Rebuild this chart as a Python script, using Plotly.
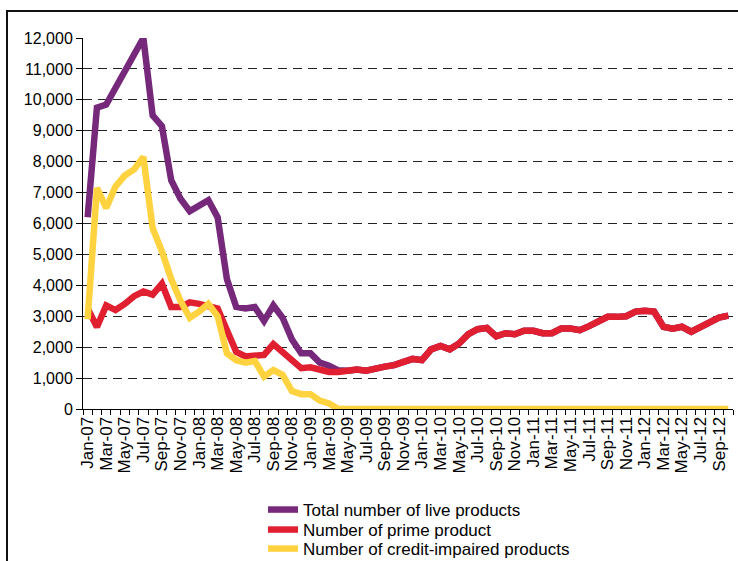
import pandas as pd
import plotly.graph_objects as go

months = list(pd.date_range("2007-01-01", periods=70, freq="MS").strftime("%b-%y"))

total_live = [
    6200, 9750, 9850, 10400, 10900, 11400, 12000, 9500, 9150, 7400, 6800, 6400,
    6550, 6750, 6200, 4200, 3300, 3250, 3300, 2850, 3350, 2950, 2250, 1800,
    1800, 1500, 1400, 1250, 1240, 1280, 1240, 1320, 1370, 1420, 1530, 1620,
    1580, 1930, 2040, 1930, 2120, 2420, 2580, 2620, 2350, 2450, 2420, 2530,
    2530, 2450, 2450, 2600, 2600, 2550, 2680, 2820, 2980, 2980, 3000, 3150,
    3180, 3150, 2660, 2600, 2660, 2500, 2660, 2770, 2960, 3020,
]
prime = [
    3250, 2650, 3350, 3200, 3400, 3650, 3800, 3700, 4050, 3300, 3300, 3450,
    3400, 3350, 3250, 2550, 1850, 1700, 1720, 1750, 2100, 1820, 1580, 1320,
    1350, 1250, 1200, 1200, 1240, 1280, 1240, 1320, 1370, 1420, 1530, 1620,
    1580, 1930, 2040, 1930, 2120, 2420, 2580, 2620, 2350, 2450, 2420, 2530,
    2530, 2450, 2450, 2600, 2600, 2550, 2680, 2820, 2980, 2980, 3000, 3150,
    3180, 3150, 2660, 2600, 2660, 2500, 2660, 2770, 2960, 3020,
]
credit_impaired = [
    2900, 7150, 6500, 7200, 7550, 7750, 8150, 5850, 5100, 4200, 3500, 2950,
    3150, 3400, 3000, 1800, 1580, 1500, 1550, 1050, 1260, 1100, 580, 480,
    480, 270, 180, 0, 0, 0, 0, 0, 0, 0, 0, 0,
    0, 0, 0, 0, 0, 0, 0, 0, 0, 0, 0, 0,
    0, 0, 0, 0, 0, 0, 0, 0, 0, 0, 0, 0,
    0, 0, 0, 0, 0, 0, 0, 0, 0, 0,
]
series_names = [
    "Total number of live products",
    "Number of prime product",
    "Number of credit-impaired products",
]
series_colors = ["#76287A", "#E01F30", "#FFD23F"]
y_ticks = list(range(0, 12001, 1000))

x = list(range(len(months)))
FONT = "Liberation Sans, Arial, sans-serif"

# plot area in pixels: x 83..733, y 38..409
PL, PR, PT, PB = 83, 733, 38, 409
def px_x(p):
    return (p - PL) / (PR - PL)
def px_y(p):
    return (PB - p) / (PB - PT)

legend_ids = ["legend", "legend2", "legend3"]
legend_rows = [510, 530, 549]

fig = go.Figure()
for name, vals, col, lid in zip(series_names, [total_live, prime, credit_impaired],
                                series_colors, legend_ids):
    fig.add_trace(go.Scatter(
        x=x, y=vals, name=name, mode="lines",
        line=dict(color=col, width=6.5), legend=lid,
    ))

legend_layout = {}
for lid, row in zip(legend_ids, legend_rows):
    legend_layout[lid] = dict(
        x=px_x(263), y=px_y(row), xanchor="left", yanchor="middle",
        font=dict(family=FONT, size=17, color="#000"),
        bgcolor="rgba(0,0,0,0)", borderwidth=0,
    )

fig.update_layout(
    width=738, height=561,
    margin=dict(l=PL, r=738 - PR, t=PT, b=561 - PB, autoexpand=False),
    paper_bgcolor="white", plot_bgcolor="white",
    font=dict(family=FONT, size=16, color="#000"),
    showlegend=True,
    xaxis=dict(
        range=[-0.5, len(months) - 0.5],
        tickmode="array", tickvals=x[::2], ticktext=months[::2],
        tickangle=-90, ticks="", ticklen=0,
        tickfont=dict(family=FONT, size=17),
        showgrid=False, zeroline=False,
        showline=True, linecolor="#000", linewidth=1,
        layer="below traces",
        minor=dict(tick0=-0.5, dtick=1, ticks="outside", ticklen=5,
                   tickcolor="#000", tickwidth=1, showgrid=False),
    ),
    yaxis=dict(
        range=[0, 12000],
        tickmode="array", tickvals=y_ticks,
        ticktext=[f"{v:,}" for v in y_ticks],
        ticks="outside", ticklen=6, tickcolor="#000",
        tickfont=dict(family=FONT, size=16),
        showgrid=True, gridcolor="#222", gridwidth=1, griddash="9px,6px",
        zeroline=False,
        showline=True, linecolor="#000", linewidth=1,
        layer="below traces",
    ),
    shapes=[dict(
        type="rect", xref="paper", yref="paper",
        x0=px_x(7), x1=px_x(760),
        y0=px_y(600), y1=px_y(11),
        line=dict(color="#111", width=2), fillcolor="rgba(0,0,0,0)",
        layer="below",
    )],
    **legend_layout,
)

fig.write_html("out.html")
